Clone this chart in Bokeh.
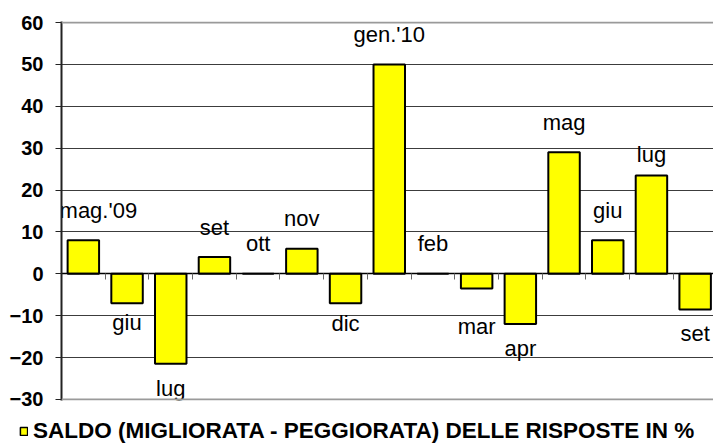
from bokeh.plotting import figure
from bokeh.layouts import column
from bokeh.models import (Range1d, LinearAxis, FixedTicker, ColumnDataSource,
                          Legend, LegendItem, Grid, Span)
from bokeh.core.properties import value
from bokeh.embed import file_html
from bokeh.resources import INLINE

# ---- data ----
months = ["mag.'09", "giu", "lug", "set", "ott", "nov", "dic", "gen.'10",
          "feb", "mar", "apr", "mag", "giu", "lug", "set"]
saldo = [8, -7, -21.5, 4, 0, 6, -7, 50, 0, -3.5, -12, 29, 8, 23.5, -8.5]
y_ticks = [-30, -20, -10, 0, 10, 20, 30, 40, 50, 60]
series_label = "SALDO (MIGLIORATA - PEGGIORATA) DELLE RISPOSTE IN %"

FONT = "Liberation Sans"
n = len(months)
idx = list(range(n))
xc = [i + 0.5 for i in idx]

# label placement (pixels): above positive bars, below negative ones
label_dy = [-30 if v >= 0 else 22 for v in saldo]
label_dx = [0] * n
label_dx[0] = 15
label_dy[13] = -21   # lug '10
label_dy[9] = 38     # mar
label_dy[2] = 25
label_dy[10] = 24
label_dy[14] = 24
label_dy[1] = 19
label_dy[6] = 20

src = ColumnDataSource(dict(x=xc, top=saldo, name=months,
                            dx=label_dx, dy=label_dy))

p = figure(width=713, height=412, output_backend="svg", toolbar_location=None,
           x_range=Range1d(0, 14.92), y_range=Range1d(-30.25, 60.25),
           x_axis_location=None, min_border_left=61, min_border_right=0,
           min_border_top=21, min_border_bottom=12)
p.frame_align = False
p.outline_line_color = None
p.xgrid.visible = False
p.ygrid.visible = False
p.background_fill_color = "white"

# gridlines
g_in = Grid(dimension=1, ticker=FixedTicker(ticks=[t for t in y_ticks if t not in (-30, 60, 0)]),
            grid_line_color="#3c3c3c", grid_line_width=1)
p.add_layout(g_in)
for edge in (y_ticks[0], y_ticks[-1]):
    p.add_layout(Span(location=edge, dimension="width",
                      line_color="#9a9a9a", line_width=2))

# y axis
ya = p.yaxis[0]
ya.ticker = FixedTicker(ticks=y_ticks)
ya.major_label_text_font = FONT
ya.major_label_text_font_style = "bold"
ya.major_label_text_font_size = "20px"
ya.major_label_text_color = "black"
ya.major_tick_out = 6
ya.major_tick_in = 0
ya.minor_tick_line_color = None
ya.axis_line_color = "#222222"
ya.axis_line_width = 2
ya.major_tick_line_color = "#222222"
ya.major_label_standoff = 12

# category axis drawn on the zero line
bounds = list(range(1, n))
xa = LinearAxis(fixed_location=0, ticker=FixedTicker(ticks=bounds),
                major_label_overrides={b: "" for b in bounds},
                major_label_text_font_size="1px", major_label_text_color=None,
                major_label_standoff=0,
                major_tick_out=6, major_tick_in=0, minor_tick_line_color=None,
                axis_line_color="black", axis_line_width=1.5,
                major_tick_line_color="#666666")
p.add_layout(xa, "below")

bars = p.vbar(x="x", top="top", bottom=0, width=0.72, source=src,
              fill_color="#FFFF00", line_color="black", line_width=2)

p.text(x="x", y="top", text="name", source=src, x_offset="dx", y_offset="dy",
       text_font=value(FONT), text_font_size="22px", text_color="black",
       text_align="center", text_baseline="middle")

# legend strip below the chart
q = figure(width=713, height=35, output_backend="svg", toolbar_location=None,
           x_range=Range1d(0, 1), y_range=Range1d(0, 1),
           x_axis_location=None, y_axis_location=None,
           min_border_left=0, min_border_right=0, min_border_top=0,
           min_border_bottom=0)
q.frame_align = False
q.outline_line_color = None
q.xgrid.visible = False
q.ygrid.visible = False
key = q.vbar(x="x", top="top", bottom=0, width=0.72, source=src,
             fill_color="#FFFF00", line_color="black", line_width=1.5)
key.visible = False

legend = Legend(items=[LegendItem(label=series_label, renderers=[key])],
                location=(19, 3), orientation="horizontal",
                padding=0, margin=0, glyph_width=9, glyph_height=10,
                label_height=22, label_standoff=5,
                label_text_font=FONT, label_text_font_style="bold",
                label_text_font_size="22.5px", label_text_color="black",
                border_line_color=None, background_fill_alpha=0)
q.add_layout(legend, "center")

layout = column(p, q, spacing=0)
open("out.html", "w").write(file_html(layout, INLINE))
